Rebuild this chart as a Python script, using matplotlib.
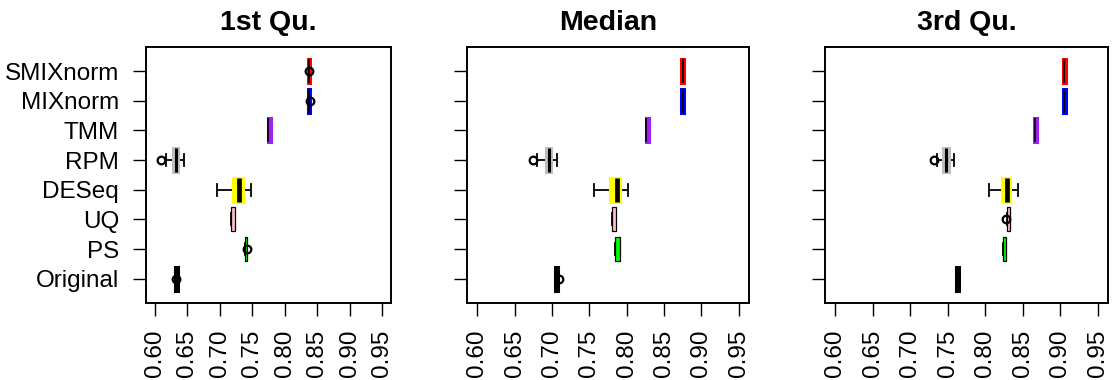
import matplotlib
matplotlib.use("Agg")
import matplotlib.pyplot as plt

plt.rcParams["font.family"] = ["Liberation Sans", "DejaVu Sans"]

# bottom to top
methods = ["Original", "PS", "UQ", "DESeq", "RPM", "TMM", "MIXnorm", "SMIXnorm"]
colors = ["black", "#00FF00", "#FFC0CB", "#FFFF00", "#BEBEBE", "#A020F0", "#0000FF", "#FF0000"]

titles = ["1st Qu.", "Median", "3rd Qu."]

# per panel: lower whisker, Q1, median, Q3, upper whisker, outliers
q1_whislo = [0.6305, 0.739, 0.7165, 0.696, 0.617, 0.7735, 0.8355, 0.8355]
q1_q1 = [0.6305, 0.739, 0.7165, 0.7196, 0.6284, 0.7735, 0.8355, 0.8355]
q1_med = [0.632, 0.7405, 0.720, 0.729, 0.632, 0.7745, 0.837, 0.837]
q1_q3 = [0.6355, 0.742, 0.723, 0.7354, 0.6354, 0.779, 0.8385, 0.8385]
q1_whishi = [0.6355, 0.742, 0.723, 0.7487, 0.6451, 0.779, 0.8385, 0.8385]
q1_out = [[0.632], [0.7425], [], [], [0.6088], [], [0.8393], [0.837]]

med_whislo = [0.7035, 0.7848, 0.7805, 0.7569, 0.6796, 0.8255, 0.8735, 0.8735]
med_q1 = [0.7035, 0.7848, 0.7805, 0.7773, 0.6915, 0.8255, 0.8735, 0.8735]
med_med = [0.705, 0.788, 0.783, 0.7868, 0.6955, 0.8265, 0.8755, 0.8755]
med_q3 = [0.7075, 0.791, 0.786, 0.7908, 0.699, 0.830, 0.8775, 0.8775]
med_whishi = [0.7075, 0.791, 0.786, 0.8023, 0.7067, 0.830, 0.8775, 0.8775]
med_out = [[0.709], [], [], [], [0.6742], [], [], []]

q3_whislo = [0.761, 0.8237, 0.8285, 0.8057, 0.736, 0.8645, 0.9035, 0.9035]
q3_q1 = [0.761, 0.8237, 0.8285, 0.8225, 0.744, 0.8645, 0.9035, 0.9035]
q3_med = [0.763, 0.8255, 0.831, 0.8297, 0.7477, 0.8665, 0.9055, 0.9055]
q3_q3 = [0.7655, 0.8275, 0.833, 0.8335, 0.752, 0.8685, 0.9075, 0.9075]
q3_whishi = [0.7655, 0.8275, 0.833, 0.844, 0.7577, 0.8685, 0.9075, 0.9075]
q3_out = [[], [], [0.828], [], [0.7311], [], [], []]

panels = [
    (q1_whislo, q1_q1, q1_med, q1_q3, q1_whishi, q1_out),
    (med_whislo, med_q1, med_med, med_q3, med_whishi, med_out),
    (q3_whislo, q3_q1, q3_med, q3_q3, q3_whishi, q3_out),
]

xticks = [0.60, 0.65, 0.70, 0.75, 0.80, 0.85, 0.90, 0.95]

# box edge colour and median line width per method
edge_colors = ["black", "black", "black", "#FFFF00", "#BEBEBE", "#A020F0", "#0000FF", "#FF0000"]
median_lw = [2.0, 0.0, 0.0, 3.4, 2.2, 1.2, 1.3, 1.3]

fig = plt.figure(figsize=(11.12, 3.80), dpi=100)
boxes_px = [(146, 245), (467, 282), (825, 283)]
W, H = 1112, 380
top, bottom = 46.7, 303

for (left, width), title, data in zip(boxes_px, titles, panels):
    ax = fig.add_axes([left / W, 1 - bottom / H, width / W, (bottom - top) / H])
    whislo, q1, med, q3, whishi, out = data
    stats = []
    for i in range(len(methods)):
        stats.append(dict(whislo=whislo[i], q1=q1[i], med=med[i], q3=q3[i],
                          whishi=whishi[i], fliers=out[i]))
    res = ax.bxp(stats, positions=range(1, len(methods) + 1), widths=0.8,
                 vert=False, patch_artist=True, capwidths=0.4,
                 whiskerprops=dict(color="black", lw=1.3, solid_capstyle="butt"),
                 capprops=dict(color="black", lw=1.3),
                 flierprops=dict(marker="o", markersize=5.5, markerfacecolor="none",
                                 markeredgecolor="black", markeredgewidth=1.6))
    for i, box in enumerate(res["boxes"]):
        box.set_facecolor(colors[i])
        box.set_edgecolor(edge_colors[i])
        if colors[i] == "black":
            box.set_linewidth(2.2)
        elif edge_colors[i] == "black":
            box.set_linewidth(0.9)
        else:
            box.set_linewidth(2.2)
    for i, line in enumerate(res["medians"]):
        if median_lw[i] > 0:
            line.set_color("black")
            line.set_linewidth(median_lw[i])
            line.set_solid_capstyle("butt")
        else:
            line.set_visible(False)
    for line in res["whiskers"] + res["caps"]:
        line.set_zorder(1)
    ax.set_xlim(0.586, 0.964)
    ax.set_ylim(0.18, 8.82)
    ax.set_xticks(xticks)
    ax.set_xticklabels([f"{t:.2f}" for t in xticks], rotation=90)
    ax.set_yticks(range(1, len(methods) + 1))
    if left == 146:
        ax.set_yticklabels(methods)
    else:
        ax.set_yticklabels([])
    ax.tick_params(axis="both", length=9.4, width=1.0, pad=10, labelsize=17.5)
    for s in ax.spines.values():
        s.set_linewidth(1.4)
    ax.set_title(title, fontsize=20.5, fontweight="bold", pad=12)

fig.savefig("out.png", dpi=100)
